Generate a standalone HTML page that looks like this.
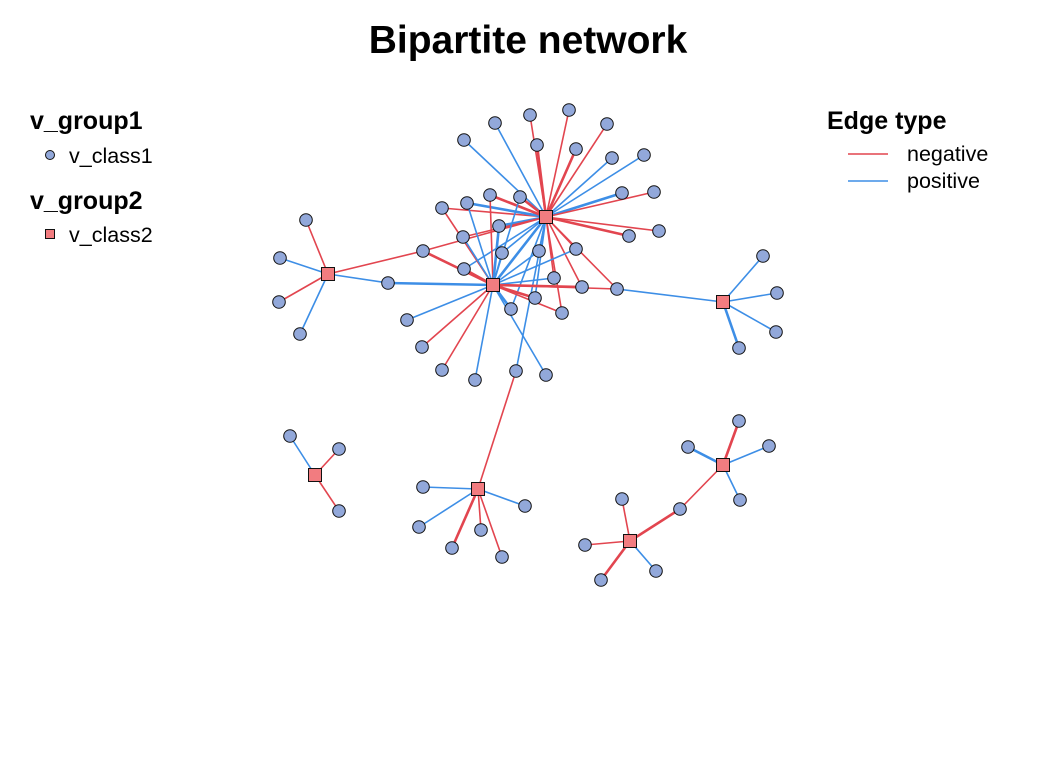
<!DOCTYPE html>
<html><head><meta charset="utf-8"><style>
html,body{margin:0;padding:0;background:#fff;width:1056px;height:768px;overflow:hidden}
svg{display:block;font-family:"Liberation Sans",Arial,sans-serif}
.r{stroke:#e2454f;stroke-width:1.6}
.b{stroke:#3d8ee6;stroke-width:1.6}
.t{stroke-width:2.6}
circle.n{fill:#92a8da;stroke:#111;stroke-width:1}
rect.h{fill:#f27c80;stroke:#111;stroke-width:1}
</style></head><body>
<svg width="1056" height="768" viewBox="0 0 1056 768">
<text x="528" y="53" text-anchor="middle" font-size="39" font-weight="bold">Bipartite network</text>
<text x="30" y="129" font-size="25" font-weight="bold">v_group1</text>
<circle cx="50" cy="155" r="4.5" class="n"/>
<text x="69" y="163" font-size="21.5">v_class1</text>
<text x="30" y="209" font-size="25" font-weight="bold">v_group2</text>
<rect x="45.5" y="229.5" width="9" height="9" class="h"/>
<text x="69" y="242" font-size="21.5">v_class2</text>
<text x="827" y="129" font-size="25" font-weight="bold">Edge type</text>
<line x1="848" y1="154" x2="888" y2="154" class="r"/>
<text x="907" y="161" font-size="21.5">negative</text>
<line x1="848" y1="181" x2="888" y2="181" class="b"/>
<text x="907" y="188" font-size="21.5">positive</text>

<g>
<line x1="546" y1="217" x2="464" y2="140" class="b"/>
<line x1="546" y1="217" x2="495" y2="123" class="b"/>
<line x1="546" y1="217" x2="530" y2="115" class="r"/>
<line x1="546" y1="217" x2="569" y2="110" class="r"/>
<line x1="546" y1="217" x2="607" y2="124" class="r"/>
<line x1="546" y1="217" x2="537" y2="145" class="r t"/>
<line x1="546" y1="217" x2="576" y2="149" class="r t"/>
<line x1="546" y1="217" x2="612" y2="158" class="b"/>
<line x1="546" y1="217" x2="644" y2="155" class="b"/>
<line x1="546" y1="217" x2="622" y2="193" class="b t"/>
<line x1="546" y1="217" x2="654" y2="192" class="r"/>
<line x1="546" y1="217" x2="629" y2="236" class="r t"/>
<line x1="546" y1="217" x2="659" y2="231" class="r"/>
<line x1="546" y1="217" x2="442" y2="208" class="r"/>
<line x1="546" y1="217" x2="467" y2="203" class="b t"/>
<line x1="546" y1="217" x2="490" y2="195" class="r t"/>
<line x1="546" y1="217" x2="520" y2="197" class="r t"/>
<line x1="546" y1="217" x2="499" y2="226" class="b t"/>
<line x1="546" y1="217" x2="463" y2="237" class="r"/>
<line x1="546" y1="217" x2="423" y2="251" class="r"/>
<line x1="546" y1="217" x2="464" y2="269" class="b"/>
<line x1="546" y1="217" x2="502" y2="253" class="b"/>
<line x1="546" y1="217" x2="539" y2="251" class="b"/>
<line x1="546" y1="217" x2="576" y2="249" class="r"/>
<line x1="546" y1="217" x2="554" y2="278" class="r"/>
<line x1="546" y1="217" x2="582" y2="287" class="r"/>
<line x1="546" y1="217" x2="617" y2="289" class="r"/>
<line x1="546" y1="217" x2="535" y2="298" class="b"/>
<line x1="546" y1="217" x2="511" y2="309" class="b"/>
<line x1="546" y1="217" x2="562" y2="313" class="r"/>
<line x1="546" y1="217" x2="516" y2="371" class="b"/>
<line x1="546" y1="217" x2="493" y2="285" class="b t"/>
<line x1="493" y1="285" x2="442" y2="208" class="r"/>
<line x1="493" y1="285" x2="467" y2="203" class="b"/>
<line x1="493" y1="285" x2="490" y2="195" class="r"/>
<line x1="493" y1="285" x2="520" y2="197" class="b"/>
<line x1="493" y1="285" x2="499" y2="226" class="b t"/>
<line x1="493" y1="285" x2="463" y2="237" class="b"/>
<line x1="493" y1="285" x2="423" y2="251" class="r t"/>
<line x1="493" y1="285" x2="464" y2="269" class="r t"/>
<line x1="493" y1="285" x2="502" y2="253" class="b"/>
<line x1="493" y1="285" x2="539" y2="251" class="b"/>
<line x1="493" y1="285" x2="576" y2="249" class="b"/>
<line x1="493" y1="285" x2="554" y2="278" class="b"/>
<line x1="493" y1="285" x2="582" y2="287" class="r t"/>
<line x1="493" y1="285" x2="617" y2="289" class="r"/>
<line x1="493" y1="285" x2="535" y2="298" class="r t"/>
<line x1="493" y1="285" x2="511" y2="309" class="b t"/>
<line x1="493" y1="285" x2="562" y2="313" class="r"/>
<line x1="493" y1="285" x2="388" y2="283" class="b t"/>
<line x1="493" y1="285" x2="407" y2="320" class="b"/>
<line x1="493" y1="285" x2="422" y2="347" class="r"/>
<line x1="493" y1="285" x2="442" y2="370" class="r"/>
<line x1="493" y1="285" x2="475" y2="380" class="b"/>
<line x1="493" y1="285" x2="546" y2="375" class="b"/>
<line x1="328" y1="274" x2="306" y2="220" class="r"/>
<line x1="328" y1="274" x2="280" y2="258" class="b"/>
<line x1="328" y1="274" x2="279" y2="302" class="r"/>
<line x1="328" y1="274" x2="300" y2="334" class="b"/>
<line x1="328" y1="274" x2="388" y2="283" class="b"/>
<line x1="328" y1="274" x2="423" y2="251" class="r"/>
<line x1="723" y1="302" x2="763" y2="256" class="b"/>
<line x1="723" y1="302" x2="777" y2="293" class="b"/>
<line x1="723" y1="302" x2="776" y2="332" class="b"/>
<line x1="723" y1="302" x2="739" y2="348" class="b t"/>
<line x1="723" y1="302" x2="617" y2="289" class="b"/>
<line x1="315" y1="475" x2="290" y2="436" class="b"/>
<line x1="315" y1="475" x2="339" y2="449" class="r"/>
<line x1="315" y1="475" x2="339" y2="511" class="r"/>
<line x1="478" y1="489" x2="516" y2="371" class="r"/>
<line x1="478" y1="489" x2="423" y2="487" class="b"/>
<line x1="478" y1="489" x2="525" y2="506" class="b"/>
<line x1="478" y1="489" x2="419" y2="527" class="b"/>
<line x1="478" y1="489" x2="452" y2="548" class="r t"/>
<line x1="478" y1="489" x2="481" y2="530" class="r"/>
<line x1="478" y1="489" x2="502" y2="557" class="r"/>
<line x1="630" y1="541" x2="622" y2="499" class="r"/>
<line x1="630" y1="541" x2="585" y2="545" class="r"/>
<line x1="630" y1="541" x2="601" y2="580" class="r t"/>
<line x1="630" y1="541" x2="656" y2="571" class="b"/>
<line x1="630" y1="541" x2="680" y2="509" class="r t"/>
<line x1="723" y1="465" x2="680" y2="509" class="r"/>
<line x1="723" y1="465" x2="739" y2="421" class="r t"/>
<line x1="723" y1="465" x2="688" y2="447" class="b t"/>
<line x1="723" y1="465" x2="769" y2="446" class="b"/>
<line x1="723" y1="465" x2="740" y2="500" class="b"/>
</g>
<g>
<circle class="n" r="6.3" cx="464" cy="140"/><circle class="n" r="6.3" cx="495" cy="123"/><circle class="n" r="6.3" cx="530" cy="115"/><circle class="n" r="6.3" cx="569" cy="110"/><circle class="n" r="6.3" cx="607" cy="124"/><circle class="n" r="6.3" cx="537" cy="145"/><circle class="n" r="6.3" cx="576" cy="149"/><circle class="n" r="6.3" cx="612" cy="158"/><circle class="n" r="6.3" cx="644" cy="155"/><circle class="n" r="6.3" cx="622" cy="193"/><circle class="n" r="6.3" cx="654" cy="192"/><circle class="n" r="6.3" cx="629" cy="236"/><circle class="n" r="6.3" cx="659" cy="231"/><circle class="n" r="6.3" cx="442" cy="208"/><circle class="n" r="6.3" cx="467" cy="203"/><circle class="n" r="6.3" cx="490" cy="195"/><circle class="n" r="6.3" cx="520" cy="197"/><circle class="n" r="6.3" cx="499" cy="226"/><circle class="n" r="6.3" cx="463" cy="237"/><circle class="n" r="6.3" cx="423" cy="251"/><circle class="n" r="6.3" cx="464" cy="269"/><circle class="n" r="6.3" cx="502" cy="253"/><circle class="n" r="6.3" cx="539" cy="251"/><circle class="n" r="6.3" cx="576" cy="249"/><circle class="n" r="6.3" cx="554" cy="278"/><circle class="n" r="6.3" cx="582" cy="287"/><circle class="n" r="6.3" cx="617" cy="289"/><circle class="n" r="6.3" cx="535" cy="298"/><circle class="n" r="6.3" cx="511" cy="309"/><circle class="n" r="6.3" cx="562" cy="313"/><circle class="n" r="6.3" cx="388" cy="283"/><circle class="n" r="6.3" cx="407" cy="320"/><circle class="n" r="6.3" cx="422" cy="347"/><circle class="n" r="6.3" cx="442" cy="370"/><circle class="n" r="6.3" cx="475" cy="380"/><circle class="n" r="6.3" cx="516" cy="371"/><circle class="n" r="6.3" cx="546" cy="375"/>
<circle class="n" r="6.3" cx="306" cy="220"/><circle class="n" r="6.3" cx="280" cy="258"/><circle class="n" r="6.3" cx="279" cy="302"/><circle class="n" r="6.3" cx="300" cy="334"/>
<circle class="n" r="6.3" cx="763" cy="256"/><circle class="n" r="6.3" cx="777" cy="293"/><circle class="n" r="6.3" cx="776" cy="332"/><circle class="n" r="6.3" cx="739" cy="348"/>
<circle class="n" r="6.3" cx="290" cy="436"/><circle class="n" r="6.3" cx="339" cy="449"/><circle class="n" r="6.3" cx="339" cy="511"/>
<circle class="n" r="6.3" cx="423" cy="487"/><circle class="n" r="6.3" cx="525" cy="506"/><circle class="n" r="6.3" cx="419" cy="527"/><circle class="n" r="6.3" cx="452" cy="548"/><circle class="n" r="6.3" cx="481" cy="530"/><circle class="n" r="6.3" cx="502" cy="557"/>
<circle class="n" r="6.3" cx="622" cy="499"/><circle class="n" r="6.3" cx="585" cy="545"/><circle class="n" r="6.3" cx="601" cy="580"/><circle class="n" r="6.3" cx="656" cy="571"/><circle class="n" r="6.3" cx="680" cy="509"/>
<circle class="n" r="6.3" cx="739" cy="421"/><circle class="n" r="6.3" cx="688" cy="447"/><circle class="n" r="6.3" cx="769" cy="446"/><circle class="n" r="6.3" cx="740" cy="500"/>
</g>
<g>
<rect class="h" x="539.5" y="210.5" width="13" height="13"/>
<rect class="h" x="486.5" y="278.5" width="13" height="13"/>
<rect class="h" x="321.5" y="267.5" width="13" height="13"/>
<rect class="h" x="716.5" y="295.5" width="13" height="13"/>
<rect class="h" x="308.5" y="468.5" width="13" height="13"/>
<rect class="h" x="471.5" y="482.5" width="13" height="13"/>
<rect class="h" x="623.5" y="534.5" width="13" height="13"/>
<rect class="h" x="716.5" y="458.5" width="13" height="13"/>
</g>
</svg>
</body></html>
